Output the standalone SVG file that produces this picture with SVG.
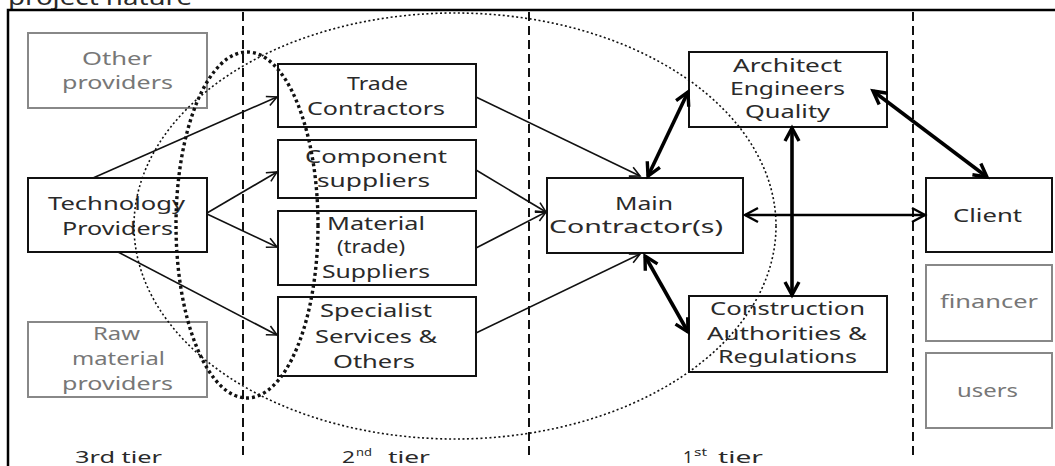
<svg xmlns="http://www.w3.org/2000/svg" width="1055" height="466" viewBox="0 0 1055 466">
<style>
.bx{fill:#fff;stroke:#111;stroke-width:2}
.gb{fill:#fff;stroke:#888;stroke-width:2}
text{font-family:"Noto Sans","DejaVu Sans",sans-serif;font-size:18px;fill:#2a2a2a}
.g{fill:#777}
.tier{font-size:17px}
.sup{font-size:11px}
.thin{stroke:#111;stroke-width:1.6;fill:none}
.thick{stroke:#000;stroke-width:3.6;fill:none}
.med{stroke:#000;stroke-width:2.6;fill:none}
.dash{stroke:#111;stroke-width:2;stroke-dasharray:9 5}
</style>
<defs>
<marker id="ah" markerWidth="14" markerHeight="14" refX="12" refY="7" orient="auto-start-reverse" markerUnits="userSpaceOnUse"><path d="M2,2 L12,7 L2,12" fill="none" stroke="#111" stroke-width="1.6"/></marker>
<marker id="ahk" markerWidth="20" markerHeight="20" refX="16" refY="10" orient="auto-start-reverse" markerUnits="userSpaceOnUse"><path d="M3,3 L16,10 L3,17" fill="none" stroke="#000" stroke-width="3.4"/></marker>
<marker id="ahm" markerWidth="18" markerHeight="18" refX="15" refY="9" orient="auto-start-reverse" markerUnits="userSpaceOnUse"><path d="M2,2 L15,9 L2,16" fill="none" stroke="#000" stroke-width="2.4"/></marker>
</defs>
<rect width="1055" height="466" fill="#fff"/>
<text x="8" y="5" style="font-size:22px" textLength="184" lengthAdjust="spacingAndGlyphs">project nature</text>
<path d="M8,466 L8,10 L1055,10" fill="none" stroke="#000" stroke-width="2.5"/>
<g id="tiers">
<line class="dash" x1="243" y1="12" x2="243" y2="455"/>
<line class="dash" x1="529" y1="12" x2="529" y2="455"/>
<line class="dash" x1="913" y1="12" x2="913" y2="455"/>
</g>
<g id="other-providers"><rect class="gb" x="28" y="33" width="179" height="75"/>
<text class="g" x="82" y="65" textLength="70" lengthAdjust="spacingAndGlyphs">Other</text>
<text class="g" x="62" y="89" textLength="111" lengthAdjust="spacingAndGlyphs">providers</text></g>
<g id="technology-providers"><rect class="bx" x="28" y="178" width="179" height="74"/>
<text x="48" y="210" textLength="137" lengthAdjust="spacingAndGlyphs">Technology</text>
<text x="62" y="235" textLength="111" lengthAdjust="spacingAndGlyphs">Providers</text></g>
<g id="raw-material-providers"><rect class="gb" x="28" y="322" width="179" height="75"/>
<text class="g" x="93" y="340" textLength="47" lengthAdjust="spacingAndGlyphs">Raw</text>
<text class="g" x="72" y="365" textLength="93" lengthAdjust="spacingAndGlyphs">material</text>
<text class="g" x="62" y="390" textLength="111" lengthAdjust="spacingAndGlyphs">providers</text></g>
<g id="trade-contractors"><rect class="bx" x="278" y="64" width="198" height="63"/>
<text x="347" y="90" textLength="61" lengthAdjust="spacingAndGlyphs">Trade</text>
<text x="307" y="115" textLength="138" lengthAdjust="spacingAndGlyphs">Contractors</text></g>
<g id="component-suppliers"><rect class="bx" x="278" y="140" width="198" height="58"/>
<text x="305" y="163" textLength="142" lengthAdjust="spacingAndGlyphs">Component</text>
<text x="317" y="187" textLength="113" lengthAdjust="spacingAndGlyphs">suppliers</text></g>
<g id="material-suppliers"><rect class="bx" x="278" y="211" width="198" height="74"/>
<text x="327" y="230" textLength="98" lengthAdjust="spacingAndGlyphs">Material</text>
<text x="337" y="253" textLength="68" lengthAdjust="spacingAndGlyphs">(trade)</text>
<text x="322" y="278" textLength="108" lengthAdjust="spacingAndGlyphs">Suppliers</text></g>
<g id="specialist-services"><rect class="bx" x="278" y="297" width="198" height="79"/>
<text x="320" y="317" textLength="112" lengthAdjust="spacingAndGlyphs">Specialist</text>
<text x="315" y="343" textLength="122" lengthAdjust="spacingAndGlyphs">Services &amp;</text>
<text x="333" y="368" textLength="82" lengthAdjust="spacingAndGlyphs">Others</text></g>
<g id="main-contractor"><rect class="bx" x="547" y="178" width="196" height="75"/>
<text x="615" y="210" textLength="58" lengthAdjust="spacingAndGlyphs">Main</text>
<text x="549" y="233" textLength="174" lengthAdjust="spacingAndGlyphs">Contractor(s)</text></g>
<g id="architect"><rect class="bx" x="689" y="52" width="198" height="75"/>
<text x="733" y="72" textLength="109" lengthAdjust="spacingAndGlyphs">Architect</text>
<text x="730" y="95" textLength="115" lengthAdjust="spacingAndGlyphs">Engineers</text>
<text x="745" y="118" textLength="85" lengthAdjust="spacingAndGlyphs">Quality</text></g>
<g id="construction-authorities"><rect class="bx" x="689" y="296" width="198" height="76"/>
<text x="710" y="315" textLength="155" lengthAdjust="spacingAndGlyphs">Construction</text>
<text x="707" y="340" textLength="160" lengthAdjust="spacingAndGlyphs">Authorities &amp;</text>
<text x="718" y="363" textLength="139" lengthAdjust="spacingAndGlyphs">Regulations</text></g>
<g id="client"><rect class="bx" x="926" y="178" width="126" height="74"/>
<text x="953" y="222" textLength="69" lengthAdjust="spacingAndGlyphs">Client</text></g>
<g id="financer"><rect class="gb" x="926" y="265" width="126" height="76"/>
<text class="g" x="940" y="308" textLength="98" lengthAdjust="spacingAndGlyphs">financer</text></g>
<g id="users"><rect class="gb" x="926" y="353" width="126" height="75"/>
<text class="g" x="957" y="397" textLength="61" lengthAdjust="spacingAndGlyphs">users</text></g>
<g id="tier-labels">
<text class="tier" x="75" y="463" textLength="87" lengthAdjust="spacingAndGlyphs">3rd tier</text>
<text class="tier" x="342" y="463" textLength="13" lengthAdjust="spacingAndGlyphs">2</text>
<text class="sup" x="356" y="456" textLength="16" lengthAdjust="spacingAndGlyphs">nd</text>
<text class="tier" x="388" y="463" textLength="42" lengthAdjust="spacingAndGlyphs">tier</text>
<text class="tier" x="683" y="463" textLength="10" lengthAdjust="spacingAndGlyphs">1</text>
<text class="sup" x="694" y="456" textLength="13" lengthAdjust="spacingAndGlyphs">st</text>
<text class="tier" x="718" y="463" textLength="45" lengthAdjust="spacingAndGlyphs">tier</text>
</g>
<g id="ellipses" fill="none">
<ellipse cx="455" cy="226" rx="321" ry="213" stroke="#111" stroke-width="1.6" stroke-dasharray="2 2.5"/>
<ellipse cx="247" cy="225" rx="71" ry="173" stroke="#111" stroke-width="3.4" stroke-dasharray="3 3"/>
</g>
<g id="connectors">
<path class="thin" d="M93,178 L277,97" marker-end="url(#ah)"/>
<path class="thin" d="M207,213 L277,172" marker-end="url(#ah)"/>
<path class="thin" d="M207,214 L277,247" marker-end="url(#ah)"/>
<path class="thin" d="M118,252 L277,335" marker-end="url(#ah)"/>
<path class="thin" d="M476,97 L640,176" marker-end="url(#ah)"/>
<path class="thin" d="M476,170 L546,212" marker-end="url(#ah)"/>
<path class="thin" d="M476,248 L546,212" marker-end="url(#ah)"/>
<path class="thin" d="M476,333 L640,254" marker-end="url(#ah)"/>
<path class="thick" d="M648,176 L688,92" marker-start="url(#ahk)" marker-end="url(#ahk)"/>
<path class="thick" d="M645,256 L688,332" marker-start="url(#ahk)" marker-end="url(#ahk)"/>
<path class="thick" d="M792,128 L792,295" marker-start="url(#ahk)" marker-end="url(#ahk)"/>
<path class="med" d="M745,215 L925,215" marker-start="url(#ahm)" marker-end="url(#ahm)"/>
<path class="thick" d="M873,91 L987,177" marker-start="url(#ahk)" marker-end="url(#ahk)"/>
</g>
</svg>
